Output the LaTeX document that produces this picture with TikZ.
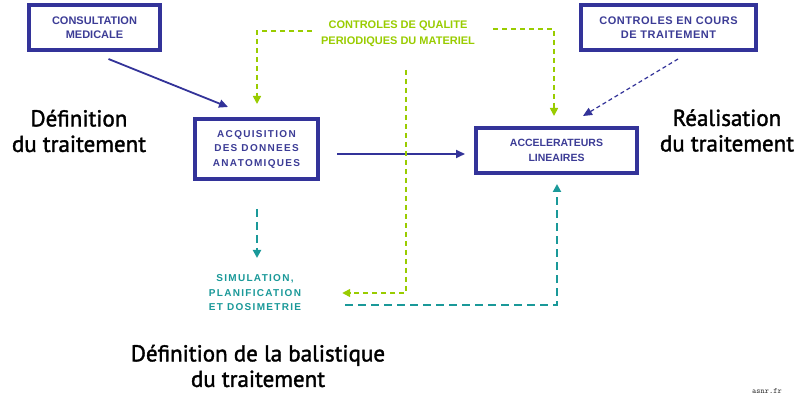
\documentclass[tikz,border=0pt]{standalone}
\usepackage{fontspec}
\setmainfont{Liberation Sans}
\newfontfamily\lblfont[FakeBold=1.6]{PT Sans}
\usetikzlibrary{arrows.meta}
\definecolor{boxblue}{RGB}{51,51,153}
\definecolor{txtblue}{RGB}{60,60,150}
\definecolor{qgreen}{RGB}{153,204,0}
\definecolor{tealc}{RGB}{26,153,153}
\begin{document}
\begin{tikzpicture}[x=1pt,y=-1pt,
  boxnode/.style={draw=boxblue,line width=4pt,inner sep=0pt,align=center,text=txtblue,font=\fontsize{11}{13.5}\selectfont\bfseries},
  spaced/.style={font=\fontsize{10}{14.5}\selectfont\bfseries\addfontfeature{LetterSpace=13}},
  biglbl/.style={align=center,font=\lblfont\fontsize{23}{25.5}\selectfont,text=black,inner sep=0pt},
  bluearrow/.style={draw=boxblue,line width=1.8pt,-{Triangle[length=9pt,width=8pt]}},
  greenarrow/.style={draw=qgreen,line width=1.6pt,dash pattern=on 5pt off 4pt,-{Triangle[length=8pt,width=8pt]}},
  tealarrow/.style={draw=tealc,line width=2pt,dash pattern=on 8pt off 5pt,-{Triangle[length=8pt,width=8pt]}},
  bluedash/.style={draw=boxblue,line width=1.2pt,dash pattern=on 4pt off 3pt,-{Triangle[length=9pt,width=8pt]}}]
\useasboundingbox[fill=white] (0,0) rectangle (800,403);
% boxes
\node[boxnode,minimum width=131pt,minimum height=45pt] (cons) at (94.5,27.5) {CONSULTATION\\MEDICALE};
\node[boxnode,spaced,minimum width=123pt,minimum height=60pt] (acq) at (256.5,149) {ACQUISITION\\DES DONNEES\\ANATOMIQUES};
\node[boxnode,minimum width=175pt,minimum height=45pt,font=\fontsize{11}{14}\selectfont\bfseries\addfontfeature{LetterSpace=5}] (ctrl) at (668.5,27.5) {CONTROLES EN COURS\\DE TRAITEMENT};
\node[boxnode,minimum width=161pt,minimum height=45pt,font=\fontsize{10.5}{15}\selectfont\bfseries] (acc) at (556.5,150.5) {ACCELERATEURS\\LINEAIRES};
% green text
\node[align=center,text=qgreen,inner sep=0pt,font=\fontsize{11}{16}\selectfont\bfseries] (qual) at (398,34) {CONTROLES DE QUALITE\\PERIODIQUES DU MATERIEL};
% simulation text
\node[align=center,text=tealc,inner sep=0pt,spaced] (sim) at (255,293) {SIMULATION,\\PLANIFICATION\\ET DOSIMETRIE};
% big labels
\node[biglbl] (def) at (79,131) {Définition\\du traitement};
\node[biglbl] (real) at (727,130.5) {Réalisation\\du traitement};
\node[biglbl] (bal) at (258,366) {Définition de la balistique\\du traitement};
\node[text=black!80,inner sep=0pt,font=\ttfamily\fontsize{8}{9}\selectfont] (asnr) at (767,391) {asnr.fr};
% connectors
\draw[bluearrow] ([shift={(14,7)}]cons.south) -- ([shift={(35,-10)}]acq.north west);
\draw[bluearrow] ([shift={(17,5)}]acq.east) -- ([shift={(-9,3.5)}]acc.west);
\draw[bluedash] ([shift={(9.5,7)}]ctrl.south) -- ([shift={(26.5,-10)}]acc.north);
\draw[greenarrow] ([shift={(-86,-3)}]qual.center) -| ([shift={(0.5,-13)}]acq.north);
\draw[greenarrow] ([shift={(95,-5)}]qual.center) -| ([shift={(-2.5,-10)}]acc.north);
\draw[greenarrow] ([shift={(8,36)}]qual.center) |- ([shift={(41,0)}]sim.east);
\draw[tealarrow] ([shift={(0.5,28)}]acq.south) -- ([shift={(2,-35)}]sim.center);
\draw[tealarrow] ([shift={(90,12)}]sim.center) -| ([shift={(0.5,9)}]acc.south);
\end{tikzpicture}
\end{document}
